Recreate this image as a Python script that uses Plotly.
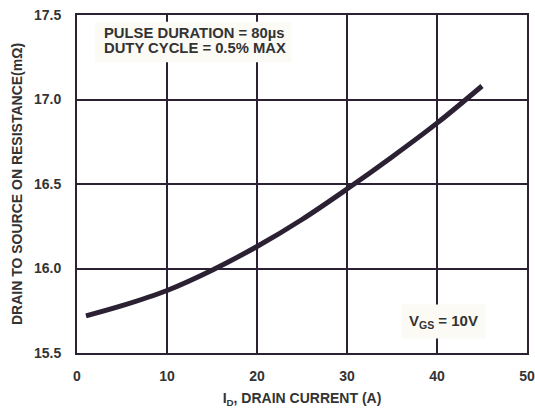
import plotly.graph_objects as go

current = [1, 5, 10, 15, 20, 25, 30, 35, 40, 45]
resistance = [15.72, 15.78, 15.87, 15.99, 16.13, 16.29, 16.47, 16.66, 16.86, 17.08]
x_ticks = [0, 10, 20, 30, 40, 50]
y_ticks = [15.5, 16.0, 16.5, 17.0, 17.5]
y_tick_labels = ["15.5", "16.0", "16.5", "17.0", "17.5"]

ink = "#2b2133"
txt = "#333333"
fam = "Liberation Sans, Arial, sans-serif"
bold14 = dict(family=fam, size=14, color=txt, weight="bold")

fig = go.Figure()
fig.add_trace(go.Scatter(x=current, y=resistance, mode="lines",
                         line=dict(color=ink, width=5, shape="spline"),
                         showlegend=False, hoverinfo="skip"))

fig.update_layout(
    width=535, height=408,
    margin=dict(l=77, r=8, t=15, b=55, autoexpand=False),
    paper_bgcolor="white", plot_bgcolor="white",
    font=dict(family=fam, size=14, color=txt),
    xaxis=dict(range=[0, 50], tickvals=x_ticks, showgrid=True, gridcolor=ink, gridwidth=2,
               zeroline=False, showline=True, linecolor=ink, linewidth=2, mirror=True,
               ticks="", tickfont=bold14, ticklabelstandoff=9, automargin=False,
               ticklabeloverflow="allow",
               title=dict(text="I<sub>D</sub>, DRAIN CURRENT (A)", font=bold14, standoff=12)),
    yaxis=dict(range=[15.5, 17.5], tickvals=y_ticks, ticktext=y_tick_labels, showgrid=True,
               gridcolor=ink, gridwidth=2, zeroline=False, showline=True, linecolor=ink,
               linewidth=2, mirror=True, ticks="", tickfont=bold14, automargin=False,
               ticklabelstandoff=11, ticklabeloverflow="allow",
               title=dict(text="DRAIN TO SOURCE ON RESISTANCE(mΩ)",
                          font=dict(family=fam, size=14, color=txt, weight="bold"), standoff=8)),
)

bg = "#fbfaf5"
fig.add_shape(type="rect", xref="x", yref="y", x0=2.0, x1=23.8, y0=17.22, y1=17.46,
              fillcolor=bg, line_width=0, layer="above")
fig.add_annotation(x=2.8, y=17.393, xref="x", yref="y", xanchor="left", yanchor="middle",
                   text="PULSE DURATION = 80µs", showarrow=False,
                   font=dict(family=fam, size=14.8, color=txt, weight="bold"))
fig.add_annotation(x=2.8, y=17.305, xref="x", yref="y", xanchor="left", yanchor="middle",
                   text="DUTY CYCLE = 0.5% MAX", showarrow=False,
                   font=dict(family=fam, size=14.8, color=txt, weight="bold"))
fig.add_annotation(x=40.7, y=15.685, xref="x", yref="y", xanchor="center", yanchor="middle",
                   text="V<sub>GS</sub> = 10V", showarrow=False, bgcolor=bg,
                   font=dict(family=fam, size=15, color=txt, weight="bold"), borderpad=7)

fig.write_html("out.html", config={"displayModeBar": False},
               post_script="document.body.style.margin='0';")
